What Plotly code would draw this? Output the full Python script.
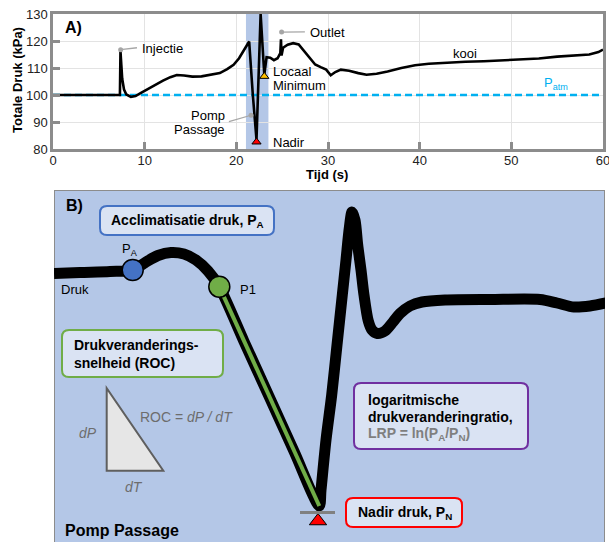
import plotly.graph_objects as go

# ---------------- Panel A data ----------------
time_s = [0, 3, 7.30, 7.36, 7.42, 7.55, 7.75, 8.0, 8.5, 9.0,
          9.6, 10.3, 11.0, 12.0, 12.8, 13.5, 14.3, 15.2, 16.2, 17.2,
          18.2, 19.0, 19.7, 20.3, 20.8, 21.15, 21.4, 21.8, 22.2, 22.65,
          23.05, 23.3, 23.7, 24.1, 24.5, 24.8, 24.87, 24.93, 25.1, 25.6,
          26.2, 26.8, 27.4, 28.0, 28.6, 29.2, 29.8, 30.3, 30.8, 31.4,
          32.3, 33.3, 34.2, 35.3, 36.5, 38.0, 39.5, 41.0, 43.0, 45.0,
          47.0, 49.0, 51.0, 53.0, 55.0, 57.0, 58.5, 59.5, 60.0]
pressure_kpa = [100, 100, 100, 116.2, 112, 106, 102, 100.2, 99.3, 99.6,
                100.8, 102.2, 103.6, 105.3, 106.6, 107.4, 107.2, 106.8, 106.9, 107.4,
                108.1, 109.6, 111.2, 113.6, 116.5, 118.5, 119.8, 100, 83.5, 130,
                107.5, 114, 113.8, 112.9, 113.6, 115.5, 120.6, 114.6, 117.5, 118.6,
                119.2, 118.7, 116.2, 113.4, 111.3, 110.3, 109.4, 107.3, 108.5, 109.4,
                109, 108.1, 107.5, 107.9, 108.7, 110.0, 111.0, 111.6, 112.0, 112.3,
                112.5, 112.8, 113.1, 113.5, 114.2, 114.6, 115.0, 115.9, 116.8]
patm_kpa = 100
x_ticks = [0, 10, 20, 30, 40, 50, 60]
y_ticks = [80, 90, 100, 110, 120, 130]
pump_passage_t = [21.05, 23.5]

nadir_t, nadir_p = 22.2, 82.6
locmin_t, locmin_p = 23.05, 106.9

callout_t = [7.38, 24.94, 21.6]
callout_p = [116.8, 123.3, 92.5]
callout_end_t = [9.16, 27.48, 19.19]
callout_end_p = [117.5, 123.4, 90.1]

# ---------------- Panel B schematic (drawing units) ----------------
schem_x = [54, 80, 110, 133, 146, 158, 171, 184, 196, 208, 219.3,
           244, 269, 294, 319.3,
           321, 326, 331.7, 337, 342.3, 346, 349.3, 352, 355, 357.7, 361, 364,
           368.3, 372, 377.3, 385, 393, 400, 410, 422, 445, 490, 540, 557, 574, 590, 606]
schem_y = [273.5, 272.5, 271.5, 270, 262, 255.5, 252.5, 254, 260, 271, 286.7,
           341.4, 396.3, 451.3, 506,
           490, 440, 395, 345, 295, 260, 228, 212, 220, 245, 270, 295,
           321, 330, 333.5, 331, 322, 313.5, 306, 302, 300, 299.5, 299.5, 303, 307, 306, 303]
roc_x = [219.3, 319.3]
roc_y = [286.7, 506]
pa_x, pa_y = 132.7, 270
p1_x, p1_y = 219.3, 286.7
pn_x, pn_y = 318, 521

FONT = "Liberation Sans, Arial, Helvetica, sans-serif"
fig = go.Figure()

# Panel A
fig.add_trace(go.Scatter(x=[0, 60], y=[patm_kpa, patm_kpa], mode="lines",
                         line=dict(color="#00b0f0", width=2.5, dash="7px,4px"),
                         xaxis="x", yaxis="y", hoverinfo="skip"))
fig.add_trace(go.Scatter(x=time_s, y=pressure_kpa, mode="lines",
                         line=dict(color="black", width=2.6),
                         xaxis="x", yaxis="y"))
fig.add_trace(go.Scatter(x=callout_t, y=callout_p, mode="markers",
                         marker=dict(color="#a6a6a6", size=5),
                         xaxis="x", yaxis="y"))
fig.add_trace(go.Scatter(x=[locmin_t], y=[locmin_p], mode="markers",
                         marker=dict(symbol="triangle-up", color="#ffc000", size=8,
                                     line=dict(color="black", width=1)),
                         xaxis="x", yaxis="y"))
fig.add_trace(go.Scatter(x=[nadir_t], y=[nadir_p], mode="markers",
                         marker=dict(symbol="triangle-up", color="#ff0000", size=8,
                                     line=dict(color="black", width=1)),
                         xaxis="x", yaxis="y"))

# Panel B
fig.add_trace(go.Scatter(x=schem_x, y=schem_y, mode="lines",
                         line=dict(color="black", width=11, shape="spline", smoothing=0.8),
                         xaxis="x2", yaxis="y2"))
fig.add_trace(go.Scatter(x=roc_x, y=roc_y, mode="lines",
                         line=dict(color="#70ad47", width=4),
                         xaxis="x2", yaxis="y2"))
fig.add_trace(go.Scatter(x=[pa_x], y=[pa_y], mode="markers",
                         marker=dict(color="#4472c4", size=21, line=dict(color="black", width=1.5)),
                         xaxis="x2", yaxis="y2"))
fig.add_trace(go.Scatter(x=[p1_x], y=[p1_y], mode="markers",
                         marker=dict(color="#70ad47", size=21, line=dict(color="black", width=1.5)),
                         xaxis="x2", yaxis="y2"))
fig.add_trace(go.Scatter(x=[pn_x], y=[pn_y], mode="markers",
                         marker=dict(symbol="triangle-up", color="#ff0000", size=15,
                                     line=dict(color="black", width=1)),
                         xaxis="x2", yaxis="y2"))

shapes = []
# Panel A band
shapes.append(dict(type="rect", xref="x", yref="y", x0=pump_passage_t[0], x1=pump_passage_t[1],
                   y0=80, y1=130, fillcolor="#b4c7e7", line=dict(width=0), layer="below"))
for i in range(len(callout_t)):
    shapes.append(dict(type="line", xref="x", yref="y", x0=callout_t[i], y0=callout_p[i],
                       x1=callout_end_t[i], y1=callout_end_p[i],
                       line=dict(color="#a6a6a6", width=1.3)))

# Panel B background
shapes.append(dict(type="rect", xref="x2", yref="y2", x0=54, x1=605, y0=190, y1=548,
                   fillcolor="#b4c7e7", line=dict(color="#8c8c8c", width=2), layer="below"))


def rrect(x0, y0, x1, y1, r):
    return (f"M {x0+r},{y0} L {x1-r},{y0} Q {x1},{y0} {x1},{y0+r} "
            f"L {x1},{y1-r} Q {x1},{y1} {x1-r},{y1} L {x0+r},{y1} "
            f"Q {x0},{y1} {x0},{y1-r} L {x0},{y0+r} Q {x0},{y0} {x0+r},{y0} Z")


boxes = [
    (100, 206, 274, 235, "#4472c4"),
    (62, 330, 223, 377, "#70ad47"),
    (354, 383, 528, 449, "#7030a0"),
    (346, 498, 462, 527, "#ff0000"),
]
for x0, y0, x1, y1, c in boxes:
    shapes.append(dict(type="path", xref="x2", yref="y2", path=rrect(x0, y0, x1, y1, 7),
                       fillcolor="#dae3f3", line=dict(color=c, width=2)))
# dP/dT triangle
shapes.append(dict(type="path", xref="x2", yref="y2",
                   path="M 106.7,388.3 L 106.7,470.7 L 163.3,470.7 Z",
                   fillcolor="#e6e6e6", line=dict(color="#5f5f5f", width=2)))
# nadir gray line
shapes.append(dict(type="line", xref="x2", yref="y2", x0=300, x1=335, y0=512.5, y1=512.5,
                   line=dict(color="#808080", width=3)))

ann = []


def A(x, y, text, size=13, xanchor="left", color="black", ref="1", bold=False, italic=False):
    if bold:
        text = f"<b>{text}</b>"
    if italic:
        text = f"<i>{text}</i>"
    xr = "x" if ref == "1" else "x2"
    yr = "y" if ref == "1" else "y2"
    if ref == "paper":
        xr = yr = "paper"
    ann.append(dict(x=x, y=y, xref=xr, yref=yr, text=text, showarrow=False,
                    xanchor=xanchor, yanchor="middle",
                    font=dict(size=size, color=color, family=FONT)))


# Panel A annotations
A(63 / 609, 1 - 28 / 542, "A)", size=16, ref="paper", bold=True)
A(9.49, 117.3, "Injectie")
A(27.8, 123.3, "Outlet")
A(18.97, 92.5, "Pomp", xanchor="right")
A(18.97, 87.3, "Passage", xanchor="right")
A(23.77, 108.8, "Locaal")
A(23.77, 103.6, "Minimum")
A(23.77, 82.5, "Nadir")
A(44.9, 115.4, "kooi", xanchor="center")
A(54.9, 104.4, "P<sub>atm</sub>", xanchor="center", color="#00b0f0")
A(327 / 609, 1 - 175 / 542, "Tijd (s)", ref="paper", xanchor="center", bold=True)
ann.append(dict(x=17 / 609, y=1 - 80 / 542, xref="paper", yref="paper", text="<b>Totale Druk (kPa)</b>",
                showarrow=False, textangle=-90, xanchor="center", yanchor="middle",
                font=dict(size=13, color="black", family=FONT)))

# Panel B annotations
A(64, 205, "B)", size=16, ref="2", bold=True)
A(187, 220.5, "Acclimatisatie druk, P<sub>A</sub>", size=14, ref="2", xanchor="center", bold=True)
A(130, 249, "P<sub>A</sub>", ref="2", xanchor="center")
A(59, 289, "Druk", ref="2")
A(238, 289, "P1", ref="2")
A(72, 345, "Drukveranderings-", size=14, ref="2", bold=True)
A(72, 363, "snelheid (ROC)", size=14, ref="2", bold=True)
A(138, 417, "ROC = <i>dP / dT</i>", size=14, ref="2", color="#6d6d6d")
A(88, 433, "dP", size=14, ref="2", color="#6d6d6d", xanchor="center", italic=True)
A(134, 487, "dT", size=14, ref="2", color="#6d6d6d", xanchor="center", italic=True)
A(63, 530, "Pomp Passage", size=16, ref="2", bold=True)
A(366, 400, "logaritmische", size=14, ref="2", bold=True)
A(366, 417, "drukveranderingratio,", size=14, ref="2", bold=True)
A(366, 434, "LRP = ln(P<sub>A</sub>/P<sub>N</sub>)", size=14, ref="2", bold=True, color="#7f7f7f")
A(356, 513, "Nadir druk, P<sub>N</sub>", size=14, ref="2", bold=True)

fig.update_layout(
    template="none",
    width=609, height=542, autosize=False, margin=dict(l=0, r=0, t=0, b=0, pad=0),
    paper_bgcolor="white", plot_bgcolor="white", showlegend=False,
    font=dict(family=FONT, size=13, color="black"),
    shapes=shapes, annotations=ann,
    xaxis=dict(domain=[53 / 609, 603 / 609], range=[0, 60], tickvals=x_ticks, ticks="inside",
               ticklen=7, tickwidth=2.5, tickcolor="#8c8c8c", showgrid=True, gridcolor="#e3e3e3",
               showline=True, mirror=True, linecolor="#8c8c8c", linewidth=2.5, zeroline=False,
               tickfont=dict(size=13, color="#222"), anchor="y", fixedrange=True,
               automargin=False, ticklabeloverflow="allow", ticklabelstandoff=-2),
    yaxis=dict(domain=[1 - 149 / 542, 1 - 14 / 542], range=[80, 130], tickvals=y_ticks, ticks="inside",
               ticklen=7, tickwidth=2.5, tickcolor="#8c8c8c", showgrid=True, gridcolor="#e3e3e3",
               showline=True, mirror=True, linecolor="#8c8c8c", linewidth=2.5, zeroline=False,
               tickfont=dict(size=13, color="#222"), anchor="x", fixedrange=True,
               automargin=False, ticklabeloverflow="allow"),
    xaxis2=dict(domain=[54 / 609, 605 / 609], range=[54, 605], visible=False, anchor="y2",
                fixedrange=True, automargin=False),
    yaxis2=dict(domain=[0, 1 - 190 / 542], range=[542, 190], visible=False, anchor="x2",
                fixedrange=True, automargin=False),
)

fig.write_html("out.html", config={"displayModeBar": False},
               post_script="document.body.style.margin='0';document.body.style.overflow='hidden';")
